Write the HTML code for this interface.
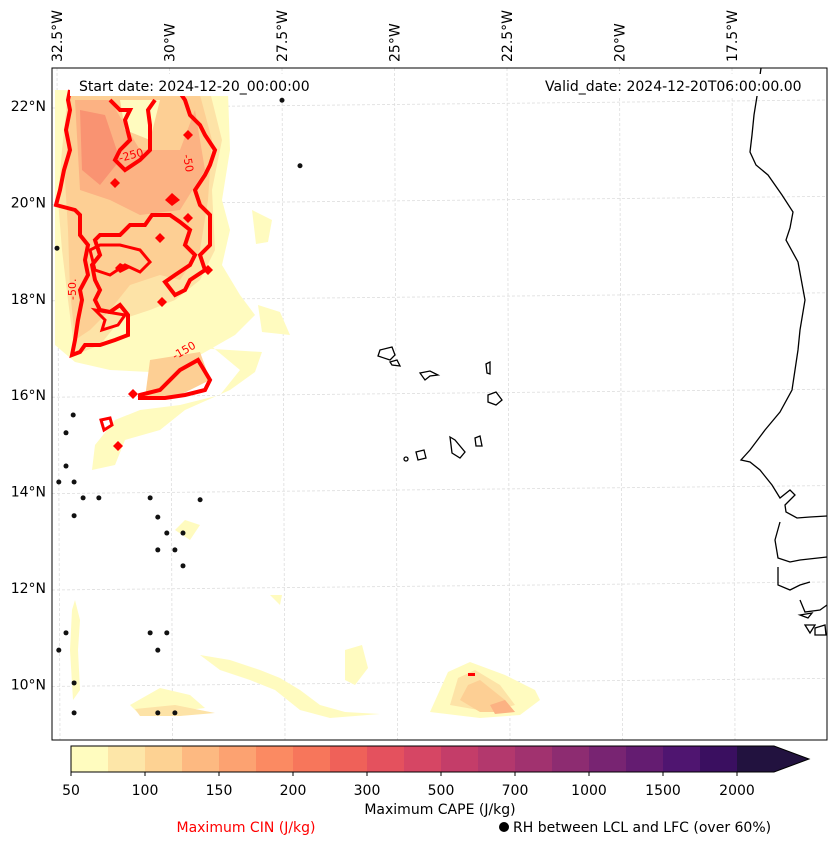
<!DOCTYPE html>
<html><head><meta charset="utf-8">
<style>
body{margin:0;background:#fff;font-family:"Liberation Sans","DejaVu Sans",sans-serif;}
#wrap{position:relative;width:837px;height:845px;overflow:hidden;}
svg text{font-family:"DejaVu Sans","Liberation Sans",sans-serif;}
</style></head>
<body>
<div id="wrap">
<svg id="svg" width="837" height="845" xmlns="http://www.w3.org/2000/svg">
  <defs><clipPath id="mapclip"><rect x="52" y="68" width="775" height="672"/></clipPath></defs>
  <g id="grid"></g>
  <g clip-path="url(#mapclip)">
    <path d="M55,90 L228,92 L230,150 L222,200 L230,230 L222,265 L240,295 L255,315 L235,335 L200,355 L150,372 L110,370 L75,362 L55,345 Z" fill="#fffbbf"/>
    <path d="M68,92 L210,92 L222,140 L212,190 L215,250 L200,280 L175,300 L150,310 L120,320 L100,345 L75,355 L68,300 L62,250 L58,200 L62,150 Z" fill="#fde3a7"/>
    <path d="M70,95 L200,95 L212,140 L208,200 L200,250 L180,280 L160,275 L130,285 L110,310 L90,330 L75,340 L70,290 L68,230 L65,180 L68,130 Z" fill="#fdcf94"/>
    <path d="M75,100 L110,100 L140,150 L180,150 L195,110 L205,170 L180,210 L140,215 L110,200 L80,190 Z" fill="#fcb283"/>
    <path d="M80,110 L105,115 L120,160 L100,185 L82,170 Z" fill="#f99372"/>
    <path d="M120,100 L160,100 L150,140 L125,130 Z" fill="#fffbbf"/>
    <path d="M150,345 L210,345 L240,370 L220,395 L180,405 L140,410 L115,420 L95,445 L92,470 L115,465 L125,440 L160,430 L185,410 L230,390 L255,372 L262,352 Z" fill="#fffbbf"/>
    <path d="M150,360 L200,352 L210,380 L180,395 L145,398 Z" fill="#fdcf94"/>
    <path d="M252,210 L272,220 L268,242 L256,244 Z" fill="#fffbbf"/>
    <path d="M258,305 L280,312 L290,335 L262,332 Z" fill="#fffbbf"/>
    <path d="M130,705 L160,688 L190,695 L205,708 L170,712 L140,715 Z" fill="#fffbbf"/>
    <path d="M135,709 L175,705 L215,713 L180,716 L140,716 Z" fill="#fde3a7"/>
    <path d="M200,655 L230,660 L260,670 L280,678 L300,690 L320,705 L345,712 L380,714 L330,718 L300,710 L275,690 L250,680 L220,670 Z" fill="#fffbbf"/>
    <path d="M345,650 L362,645 L368,668 L355,685 L345,680 Z" fill="#fffbbf"/>
    <path d="M75,600 L80,620 L78,650 L80,690 L73,700 L70,650 L72,610 Z" fill="#fffbbf"/>
    <path d="M430,712 L448,672 L470,662 L505,675 L535,690 L540,700 L520,715 L480,718 Z" fill="#fffbbf"/>
    <path d="M450,705 L458,678 L475,670 L500,685 L515,705 L490,712 Z" fill="#fde3a7"/>
    <path d="M460,700 L468,685 L480,680 L505,700 L515,712 L480,712 Z" fill="#fdcf94"/>
    <path d="M490,705 L505,700 L515,712 L495,714 Z" fill="#fcb283"/>
    <path d="M270,595 L282,595 L280,605 Z" fill="#fffbbf"/>
    <path d="M175,530 L185,520 L200,525 L190,540 Z" fill="#fffbbf"/>
  </g>
  <g clip-path="url(#mapclip)" fill="none" stroke="#ff0000" stroke-width="4" stroke-linejoin="miter">
    <path d="M70,90 L68,100 L70,110 L66,130 L70,150 L64,170 L60,190 L56,205 L75,210 L80,215 L80,235 L88,245 L85,260 L88,275 L80,290 L82,300 L78,320 L75,340 L72,355 L80,352 L85,345 L100,345 L115,340 L128,335 L128,315 L120,305 L110,312 L100,310 L95,300 L100,290 L95,280 L92,265 L100,255 L95,240 L100,235 L120,235 L130,225 L145,225 L152,215 L170,215 L180,222 L190,230 L185,245 L195,255 L190,265 L175,275 L165,282 L175,295 L185,290 L190,280 L205,270 L200,255 L210,245 L210,215 L200,205 L195,190 L205,175 L210,165 L215,150 L205,135 L200,125 L190,115 L185,100 L178,90"/>
    <path d="M110,100 L120,110 L130,110 L125,120 L130,140 L120,150 L115,160 L125,170 L140,160 L150,150 L150,125 L148,110 L155,100"/>
    <path d="M90,250 L95,270 L110,275 L125,265 L140,272 L150,262 L140,250 L120,245 L100,245 Z" stroke-width="3"/>
    <path d="M140,395 L160,390 L180,370 L198,360 L210,380 L205,390 L185,395 L165,398 L140,398 Z"/>
    <path d="M95,310 L105,320 L102,330 L118,325 L125,315 Z" stroke-width="3"/>
    <path d="M101,420 L110,418 L112,425 L104,430 Z" stroke-width="3"/>
  </g>
  <g clip-path="url(#mapclip)" fill="#ff0000">
    <path d="M165,200 L172,193 L180,200 L172,206 Z"/><path d="M128,394 L133,389 L138,394 L133,399 Z"/>
    <path d="M113,446 L118,441 L123,446 L118,451 Z"/><path d="M155,238 L160,233 L165,238 L160,243 Z"/>
    <path d="M183,218 L188,213 L193,218 L188,223 Z"/><path d="M157,302 L162,297 L167,302 L162,307 Z"/>
    <path d="M203,270 L208,265 L213,270 L208,275 Z"/><path d="M183,135 L188,130 L193,135 L188,140 Z"/>
    <path d="M110,183 L115,178 L120,183 L115,188 Z"/><path d="M115,268 L120,263 L130,268 L120,273 Z"/>
    <rect x="468" y="673" width="7" height="3"/>
  </g>
  <g clip-path="url(#mapclip)" fill="#ff0000" font-size="11">
    <text x="120" y="162" transform="rotate(-15 120 162)">-250</text>
    <text x="183" y="155" transform="rotate(80 183 155)">-50</text>
    <text x="76" y="300" transform="rotate(-90 76 300)">-50.</text>
    <text x="175" y="360" transform="rotate(-30 175 360)">-150</text>
  </g>
  <g clip-path="url(#mapclip)" fill="none" stroke="#000" stroke-width="1.3">
    <path d="M761,68 L758,90 L754,115 L752,135 L750,152 L756,165 L768,175 L782,195 L793,212 L790,228 L786,240 L798,262 L805,300 L800,330 L798,350 L792,390 L780,412 L765,430 L750,450 L741,460 L750,462 L760,470 L772,485 L780,498 L790,490 L795,495 L785,505 L786,512 L797,518 L810,517 L827,516"/>
    <path d="M780,522 L775,540 L778,558 L790,562 L800,560 L827,557"/>
    <path d="M778,567 L778,585 L790,590 L800,585 L810,582"/>
    <path d="M800,600 L805,612 L820,610 L827,605"/>
    <path d="M800,615 L812,613 L808,618 Z M805,625 L815,625 L810,633 Z M815,628 L825,625 L826,635 L815,635 Z"/>
    <path d="M380,350 L392,347 L395,355 L390,360 L378,356 Z"/>
    <path d="M390,362 L397,360 L400,366 L392,365 Z"/>
    <path d="M420,373 L430,371 L438,375 L430,376 L425,380 Z"/>
    <path d="M486,364 L490,362 L490,374 L487,373 Z"/>
    <path d="M488,395 L496,392 L502,400 L496,405 L488,402 Z"/>
    <path d="M450,437 L455,440 L465,452 L460,458 L452,453 Z"/>
    <path d="M475,438 L480,436 L482,446 L476,446 Z"/>
    <path d="M416,452 L424,450 L426,458 L418,460 Z"/>
    <circle cx="406" cy="459" r="2"/>
  </g>
  <g id="dots" clip-path="url(#mapclip)"></g>
  <rect x="52" y="68" width="775" height="672" fill="none" stroke="#000" stroke-width="1"/>
  <rect x="70" y="74" width="250" height="22" fill="#fff"/>
  <text x="79" y="91" font-size="14">Start date: 2024-12-20_00:00:00</text>
  <rect x="538" y="74" width="275" height="22" fill="#fff"/>
  <text x="545" y="91" font-size="14">Valid_date: 2024-12-20T06:00:00.00</text>
  <g id="ticks" font-size="14"></g>
  <g id="cbar"></g>
  <text x="440" y="814" font-size="14" text-anchor="middle">Maximum CAPE (J/kg)</text>
  <text x="246" y="832" font-size="14" fill="#ff0000" text-anchor="middle">Maximum CIN (J/kg)</text>
  <circle cx="504" cy="827" r="5" fill="#000"/>
  <text x="513" y="832" font-size="14">RH between LCL and LFC (over 60%)</text>
</svg>
</div>
<script>
const cbarLevels = [50,75,100,125,150,175,200,250,300,400,500,600,700,800,1000,1250,1500,1750,2000];
const cbarLabels = ["50","100","150","200","300","500","700","1000","1500","2000"];
const cbarColors = ["#fffcbf","#fde6a8","#fdd293","#fdb981","#fca271","#fb8a62","#f7765b","#ef6159","#e4515e","#d64664","#c43d69","#b3386d","#a1326f","#8d2c71","#782472","#641c71","#4f1570","#3a0f60","#22123f"];
const lonTicks = [32.5,30,27.5,25,22.5,20,17.5];
const latTicks = [22,20,18,16,14,12,10];
const dotLon = [32.14,32.3,32.3,32.46,32.12,31.92,31.57,30.43,29.32,30.26,30.06,29.7,30.26,29.88,29.7,32.12,32.3,30.43,30.06,32.46,30.26,32.12,30.26,29.88,32.5,27.5,27.1,32.12];
const dotLat = [15.59,15.22,14.53,14.2,14.2,13.87,13.87,13.87,13.83,13.47,13.14,13.14,12.79,12.79,12.46,13.5,11.07,11.07,11.07,10.71,10.71,10.03,9.41,9.41,19.05,22.12,20.76,9.41];
const NS="http://www.w3.org/2000/svg";
function xOf(lonW){return 57+(32.5-lonW)*45;}
function yOf(lat){return 106+(22-lat)*48.2;}
function mk(t,a,p){const e=document.createElementNS(NS,t);for(const k in a)e.setAttribute(k,a[k]);p.appendChild(e);return e;}
const grid=document.getElementById('grid'), ticks=document.getElementById('ticks');
lonTicks.forEach(l=>{const x=xOf(l);
  const g=mk('line',{x1:x,y1:68,x2:x+3,y2:740,stroke:'#ddd','stroke-dasharray':'3,2','stroke-width':0.8},grid);
  
  
  const t=mk('text',{x:0,y:0,transform:`translate(${x+5},62) rotate(-90)`},ticks);t.textContent=l+'°W';
  
  });
latTicks.forEach(l=>{const y=yOf(l);
  const g=mk('line',{x1:52,y1:y+2,x2:827,y2:y-6,stroke:'#ddd','stroke-dasharray':'3,2','stroke-width':0.8},grid);
  
  
  const t=mk('text',{x:46,y:y+5,'text-anchor':'end'},ticks);t.textContent=l+'°N';
  
  });
const dots=document.getElementById('dots');
dotLon.forEach((lo,i)=>{const c=mk('circle',{cx:xOf(lo),cy:yOf(dotLat[i]),r:2.5,fill:'#111'},dots);
  
  });
const cb=document.getElementById('cbar');
const cx0=71,bw=37,cy=746,ch=26;
cbarColors.forEach((c,i)=>{const r=mk('rect',{x:cx0+i*bw,y:cy,width:bw+0.5,height:ch,fill:c},cb);
  
  });
const ext=mk('polygon',{points:`${cx0+cbarColors.length*bw},${cy} ${cx0+cbarColors.length*bw+35},${cy+ch/2} ${cx0+cbarColors.length*bw},${cy+ch}`,fill:cbarColors[cbarColors.length-1]},cb);


const ob=mk('polygon',{points:`${cx0},${cy} ${cx0+cbarColors.length*bw},${cy} ${cx0+cbarColors.length*bw+35},${cy+ch/2} ${cx0+cbarColors.length*bw},${cy+ch} ${cx0},${cy+ch}`,fill:'none',stroke:'#000','stroke-width':1},cb);


cbarLabels.forEach((lb,j)=>{const idx=cbarLevels.indexOf(+lb);const x=cx0+idx*bw;
  mk('line',{x1:x,y1:cy+ch,x2:x,y2:cy+ch+4,stroke:'#000'},cb);
  const t=mk('text',{x:x,y:795,'font-size':14,'text-anchor':'middle'},cb);t.textContent=lb;
  
  });
</script>
</body></html>
